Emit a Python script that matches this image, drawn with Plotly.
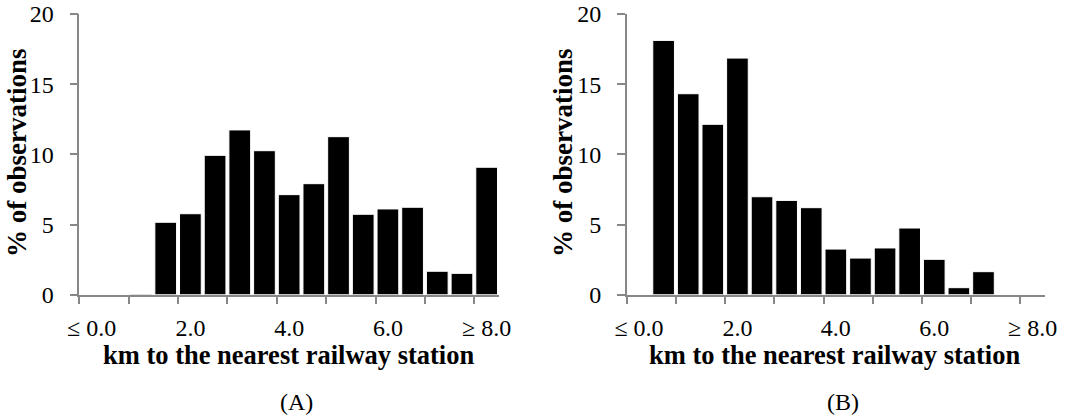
import plotly.graph_objects as go
from plotly.subplots import make_subplots

# ---- data ----
distance_km = [0.0, 0.5, 1.0, 1.5, 2.0, 2.5, 3.0, 3.5, 4.0, 4.5, 5.0, 5.5, 6.0, 6.5, 7.0, 7.5, 8.0]
share_a = [0, 0, 0.05, 5.16, 5.77, 9.93, 11.74, 10.26, 7.13, 7.91, 11.26, 5.73, 6.11, 6.23, 1.67, 1.52, 9.08]
share_b = [0, 18.12, 14.32, 12.14, 16.86, 6.98, 6.72, 6.20, 3.25, 2.61, 3.33, 4.75, 2.52, 0.50, 1.64, 0, 0]
tick_vals = [0, 2, 4, 6, 8]
tick_text = ["≤ 0.0", "2.0", "4.0", "6.0", "≥ 8.0"]
y_ticks = [0, 5, 10, 15, 20]
x_title = "km to the nearest railway station"
y_title = "% of observations"
panel_labels = ["(A)", "(B)"]

W, H = 1078, 417
FONT = "Liberation Serif"
AX = "#878787"

fig = make_subplots(rows=1, cols=2)
for col, vals in ((1, share_a), (2, share_b)):
    fig.add_trace(go.Bar(x=distance_km, y=vals, marker=dict(color="black", line=dict(color="white", width=1)),
                         showlegend=False, hoverinfo="skip"), row=1, col=col)

minor_vals = [d - 0.25 for d in distance_km[::2]]
xdom = [[79.3 / W, 499.0 / W], [626.7 / W, 1045.0 / W]]
ydom = [1 - 294.7 / H, 1 - 14.0 / H]

for i, name in enumerate(["xaxis", "xaxis2"]):
    fig.layout[name].update(
        domain=xdom[i], range=[-0.25, 8.25], showgrid=False, zeroline=False,
        showline=True, linecolor=AX, linewidth=1.5,
        tickmode="array", tickvals=tick_vals, ticktext=tick_text,
        ticks="outside", ticklen=8, tickcolor="rgba(0,0,0,0)", ticklabelstandoff=3,
        tickfont=dict(family=FONT, size=24, color="black"),
        minor=dict(tickmode="array", tickvals=minor_vals, ticks="outside", ticklen=8, tickcolor=AX, tickwidth=1.5),
        automargin=False, fixedrange=True,
    )
for name in ["yaxis", "yaxis2"]:
    fig.layout[name].update(
        domain=ydom, range=[0, 20], showgrid=False, zeroline=False,
        showline=True, linecolor=AX, linewidth=1.5,
        tickmode="array", tickvals=y_ticks,
        ticks="outside", ticklen=8, tickcolor=AX, tickwidth=1.5, ticklabelstandoff=11,
        tickfont=dict(family=FONT, size=24, color="black"),
        automargin=False, fixedrange=True,
    )

ann = []
for cx, ylab_x, lab in ((288, 17, panel_labels[0]), (834, 563, panel_labels[1])):
    ann.append(dict(text=f"<b>{x_title}</b>", x=cx / W, y=1 - 355 / H, xref="paper", yref="paper",
                    showarrow=False, xanchor="center", yanchor="middle",
                    font=dict(family=FONT, size=26.5, color="black")))
    ann.append(dict(text=f"<b>{y_title}</b>", x=ylab_x / W, y=1 - 153 / H, xref="paper", yref="paper",
                    showarrow=False, xanchor="center", yanchor="middle", textangle=-90,
                    font=dict(family=FONT, size=27, color="black")))
    ann.append(dict(text=lab, x=(cx + 9) / W, y=1 - 402 / H, xref="paper", yref="paper",
                    showarrow=False, xanchor="center", yanchor="middle",
                    font=dict(family=FONT, size=24, color="black")))

fig.update_layout(
    width=W, height=H, margin=dict(l=0, r=0, t=0, b=0),
    paper_bgcolor="white", plot_bgcolor="white", bargap=0.12,
    annotations=ann, hovermode=False,
)
fig.write_html("out.html", config={"displayModeBar": False},
               post_script="document.body.style.margin='0';document.body.style.overflow='hidden';")
